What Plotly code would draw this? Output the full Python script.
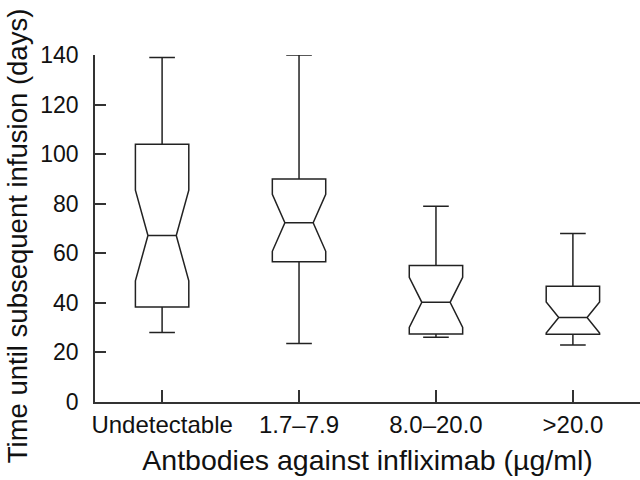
import plotly.graph_objects as go

categories = ["Undetectable", "1.7\u20137.9", "8.0\u201320.0", ">20.0"]
lower_whisker = [28.0, 23.6, 26.1, 23.0]
q1_values = [38.3, 56.6, 27.4, 27.3]
median_values = [67.2, 72.3, 40.2, 34.1]
q3_values = [104.0, 90.0, 55.1, 46.7]
upper_whisker = [139.0, 140.0, 79.0, 68.0]
notch_half_spans = [18.3, 11.5, 10.1, 6.3]
y_tick_values = [0, 20, 40, 60, 80, 100, 120, 140]

FONT = "Liberation Sans, Arial, sans-serif"
INK = "#222222"

fig = go.Figure()
fig.add_trace(go.Box(
    x=categories,
    q1=q1_values,
    median=median_values,
    q3=q3_values,
    lowerfence=lower_whisker,
    upperfence=upper_whisker,
    notchspan=notch_half_spans,
    notched=True,
    notchwidth=0.235,
    whiskerwidth=0.48,
    width=0.39,
    boxpoints=False,
    fillcolor="rgba(0,0,0,0)",
    line=dict(color=INK, width=1.5),
    showlegend=False,
    hoverinfo="skip",
))

fig.update_layout(
    width=640, height=480,
    margin=dict(l=95, r=0, t=55, b=78, autoexpand=False),
    paper_bgcolor="white", plot_bgcolor="white",
    font=dict(family=FONT, color="#111111"),
    showlegend=False,
    annotations=[dict(
        text="Time until subsequent infusion (days)",
        textangle=-90,
        xref="paper", yref="paper",
        x=-0.143, y=0.478,
        xanchor="center", yanchor="middle",
        showarrow=False,
        borderpad=0,
        font=dict(size=27.5, family=FONT, color="#111111"),
    )],
)
fig.update_xaxes(
    type="category",
    range=[-0.49, 3.49],
    showline=True, linecolor="#333333", linewidth=1.5,
    ticks="inside", ticklen=12, tickwidth=1.5, tickcolor="#333333",
    tickfont=dict(size=24, family=FONT, color="#111111"),
    ticklabelstandoff=0,
    showgrid=False, zeroline=False,
    automargin=False,
    title=dict(text="Antbodies against infliximab (\u00b5g/ml)",
               font=dict(size=28.5, family=FONT, color="#111111"), standoff=14),
)
fig.update_yaxes(
    range=[0, 140],
    tickvals=y_tick_values,
    showline=True, linecolor="#333333", linewidth=1.5,
    ticks="inside", ticklen=11, tickwidth=1.5, tickcolor="#333333",
    tickfont=dict(size=23, family=FONT, color="#111111"),
    ticklabelstandoff=10,
    showgrid=False, zeroline=False,
    automargin=False,
)

fig.write_html("out.html", config={"displayModeBar": False},
               post_script="document.body.style.margin='0';")
